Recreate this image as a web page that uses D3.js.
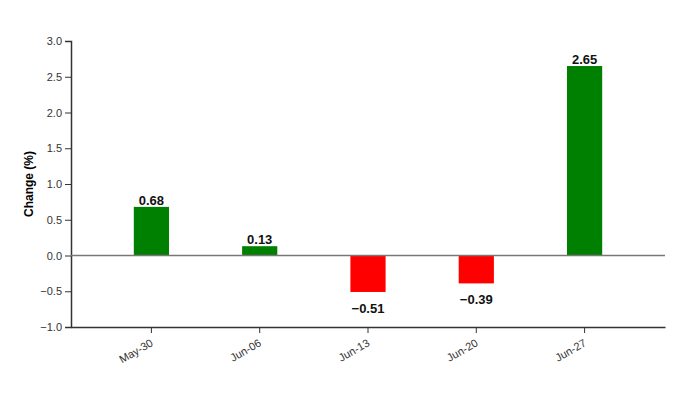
<!DOCTYPE html>
<html><head><meta charset="utf-8">
<script src="https://cdn.jsdelivr.net/npm/d3@7"></script>
<style>
body{margin:0;background:#fff;}
svg{font-family:"Liberation Sans",Arial,sans-serif;}
</style></head>
<body><svg id="c" width="693" height="393"></svg>
<script>
const categories = ["May-30","Jun-06","Jun-13","Jun-20","Jun-27"];
const values = [0.68, 0.13, -0.51, -0.39, 2.65];
const yTicks = [-1.0,-0.5,0.0,0.5,1.0,1.5,2.0,2.5,3.0];
const yLabel = "Change (%)";

const svg = d3.select("#c");
const m = {left:71, right:28, top:41, bottom:66};
const W = 693, H = 393;
const x = d3.scaleBand().domain(categories).range([m.left, W-m.right]).paddingInner(0.675).paddingOuter(0.58);
const y = d3.scaleLinear().domain([-1,3]).range([H-m.bottom, m.top]);

const gx = svg.append("g").attr("transform",`translate(0,${H-m.bottom})`)
  .call(d3.axisBottom(x).tickSizeOuter(0));
gx.selectAll(".tick text").attr("text-anchor","end").attr("x",-7).attr("y",17).attr("dy",0)
  .attr("transform","rotate(-30)").attr("font-size",11).attr("fill","#333");
gx.select(".domain").attr("stroke","#333").attr("stroke-width",1.5);
gx.selectAll(".tick line").attr("stroke","#333");

const gy = svg.append("g").attr("transform",`translate(${m.left},0)`)
  .call(d3.axisLeft(y).tickValues(yTicks).tickFormat(d3.format(".1f")).tickSizeOuter(6));
gy.selectAll(".tick text").attr("font-size",11).attr("fill","#333");
gy.select(".domain").attr("stroke","#333").attr("stroke-width",1.5);
gy.selectAll(".tick line").attr("stroke","#333");

svg.append("text").attr("transform",`translate(33,${(m.top+H-m.bottom)/2}) rotate(-90)`)
  .attr("text-anchor","middle").attr("font-size",12).attr("font-weight","bold").text(yLabel);

svg.selectAll(".bar").data(values).join("rect")
  .attr("x",(d,i)=>x(categories[i])).attr("width",x.bandwidth())
  .attr("y",d=>y(Math.max(0,d))).attr("height",d=>Math.abs(y(d)-y(0)))
  .attr("fill",d=>d>=0?"#008000":"#ff0000");

svg.append("line").attr("x1",m.left).attr("x2",W-m.right).attr("y1",y(0)).attr("y2",y(0))
  .attr("stroke","#777").attr("stroke-width",1.5);

svg.selectAll(".lbl").data(values).join("text")
  .attr("x",(d,i)=>x(categories[i])+x.bandwidth()/2)
  .attr("y",d=>d>=0?y(d)-2:y(d)+21)
  .attr("text-anchor","middle").attr("font-size",13).attr("font-weight","bold").attr("fill","#111")
  .text(d=>d3.format(".2f")(d).replace("-","\u2212"));
</script></body></html>
